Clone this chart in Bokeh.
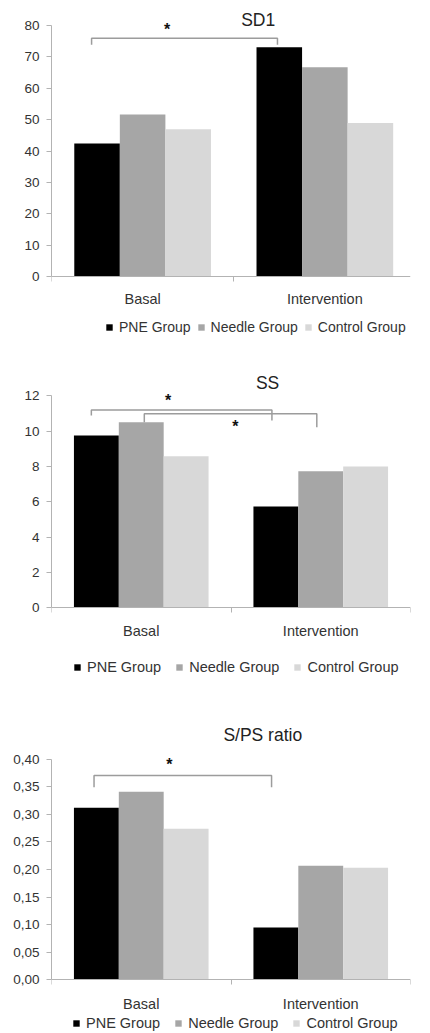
from bokeh.plotting import figure
from bokeh.models import (Range1d, FixedTicker, CustomJSTickFormatter, Legend,
                          LegendItem, ColumnDataSource)
from bokeh.layouts import column
from bokeh.embed import file_html
from bokeh.resources import INLINE
from bokeh.core.properties import value

# ---- data -------------------------------------------------------------
categories = ["Basal", "Intervention"]
groups = ["PNE Group", "Needle Group", "Control Group"]
group_colors = ["#000000", "#a6a6a6", "#d8d8d8"]

sd1_pne = [42.4, 73.1]
sd1_needle = [51.6, 66.7]
sd1_control = [46.9, 48.9]

ss_pne = [9.75, 5.73]
ss_needle = [10.5, 7.73]
ss_control = [8.58, 8.0]

sps_pne = [0.312, 0.095]
sps_needle = [0.341, 0.207]
sps_control = [0.274, 0.203]

sd1_ticks = [0, 10, 20, 30, 40, 50, 60, 70, 80]
ss_ticks = [0, 2, 4, 6, 8, 10, 12]
sps_ticks = [0.0, 0.05, 0.10, 0.15, 0.20, 0.25, 0.30, 0.35, 0.40]

FONT = "Liberation Sans"
AXIS_COLOR = "#b3b3b3"
TEXT_COLOR = "#333333"
BRACKET_COLOR = "#9c9c9c"


def make_panel(title, series, ticks, height, axis_px, px_per_unit,
               border_left, border_right, x_end, tick_code,
               title_pos, brackets, stars, legend_loc, legend_spacing,
               legend_font_size, cat_standoff):
    # the frame fills the whole panel height; the value axis sits at y = 0
    y_start = -(height - axis_px) / px_per_unit
    y_end = axis_px / px_per_unit
    p = figure(width=430, height=height, output_backend="svg",
               toolbar_location=None,
               x_range=Range1d(0, x_end), y_range=Range1d(y_start, y_end),
               min_border_left=border_left, min_border_right=border_right,
               min_border_top=0, min_border_bottom=0,
               outline_line_color=None, background_fill_color="white")
    p.xgrid.visible = False
    p.ygrid.visible = False

    # grouped bars: three groups side by side inside each category
    renderers = []
    n = len(series)
    bw = 0.25
    for k, (vals, color) in enumerate(zip(series, group_colors)):
        xs = [i + 0.5 + (k - (n - 1) / 2) * bw for i in range(len(categories))]
        src = ColumnDataSource(dict(x=xs, top=vals))
        r = p.vbar(x="x", top="top", width=bw, bottom=0, source=src,
                   fill_color=color, line_color=None)
        renderers.append(r)

    # y axis
    yax = p.yaxis[0]
    yax.ticker = FixedTicker(ticks=ticks, minor_ticks=[])
    yax.bounds = (0, ticks[-1])
    if tick_code:
        yax.formatter = CustomJSTickFormatter(code=tick_code)
    yax.axis_line_color = AXIS_COLOR
    yax.major_tick_line_color = AXIS_COLOR
    yax.major_tick_out = 5
    yax.major_tick_in = 0
    yax.major_label_standoff = 7
    yax.major_label_text_font = FONT
    yax.major_label_text_font_size = "13.5px"
    yax.major_label_text_color = TEXT_COLOR

    # x axis at y = 0: labels at category centres, small ticks at edges
    xax = p.xaxis[0]
    xax.fixed_location = 0
    xax.ticker = FixedTicker(ticks=[i + 0.5 for i in range(len(categories))],
                             minor_ticks=list(range(len(categories) + 1)))
    xax.formatter = CustomJSTickFormatter(
        args=dict(cats=categories), code="return cats[Math.floor(tick)];")
    xax.axis_line_color = AXIS_COLOR
    xax.major_tick_line_color = None
    xax.major_tick_out = 0
    xax.major_tick_in = 0
    xax.minor_tick_line_color = AXIS_COLOR
    xax.minor_tick_out = 5
    xax.minor_tick_in = 0
    xax.major_label_standoff = cat_standoff
    xax.major_label_text_font = FONT
    xax.major_label_text_font_size = "14.5px"
    xax.major_label_text_color = TEXT_COLOR

    # significance brackets
    for (x0, x1, yh, yl, yr) in brackets:
        p.line(x=[x0, x0, x1, x1], y=[yl, yh, yh, yr],
               line_color=BRACKET_COLOR, line_width=1.5)
    for (sx, sy) in stars:
        p.text(x=[sx], y=[sy], text=["*"], text_font=value(FONT),
               text_font_size="16px", text_font_style="bold",
               text_align="center", text_baseline="middle",
               text_color="#111111", y_offset=4)

    # panel title
    p.text(x=[title_pos[0]], y=[title_pos[1]], text=[title],
           text_font=value(FONT), text_font_size="17.5px",
           text_align="center", text_baseline="middle",
           text_color="#222222")

    legend = Legend(
        items=[LegendItem(label=g, renderers=[r]) for g, r in zip(groups, renderers)],
        orientation="horizontal", location=legend_loc,
        spacing=legend_spacing, label_standoff=6,
        glyph_width=8, glyph_height=8, padding=0, margin=0,
        border_line_color=None, background_fill_alpha=0,
        label_text_font=FONT, label_text_font_size=legend_font_size,
        label_text_color=TEXT_COLOR)
    p.add_layout(legend, "center")
    return p


p1 = make_panel(
    "SD1", [sd1_pne, sd1_needle, sd1_control], sd1_ticks,
    height=345, axis_px=276, px_per_unit=3.1375,
    border_left=48, border_right=0, x_end=1.97, tick_code=None,
    title_pos=(1.134, 81.6),
    brackets=[(0.22, 1.24, 75.9, 73.9, 73.9)],
    stars=[(0.634, 80.0)],
    legend_loc=(54, 10), legend_spacing=6, legend_font_size="14px",
    cat_standoff=9)

p2 = make_panel(
    "SS", [ss_pne, ss_needle, ss_control], ss_ticks,
    height=345, axis_px=262.3, px_per_unit=17.67,
    border_left=50, border_right=20, x_end=2.0, tick_code=None,
    title_pos=(1.204, 12.71),
    brackets=[(0.222, 1.228, 11.2, 10.88, 10.6),
              (0.517, 1.478, 10.98, 10.5, 10.22)],
    stars=[(0.65, 11.95), (1.024, 10.47)],
    legend_loc=(22, 15), legend_spacing=14, legend_font_size="14.5px",
    cat_standoff=10)

p3 = make_panel(
    "S/PS ratio", [sps_pne, sps_needle, sps_control], sps_ticks,
    height=343, axis_px=289.3, px_per_unit=551.5,
    border_left=51, border_right=9, x_end=2.0,
    tick_code="return tick.toFixed(2).replace('.', ',');",
    title_pos=(1.177, 0.443),
    brackets=[(0.237, 1.226, 0.3705, 0.349, 0.349)],
    stars=[(0.656, 0.398)],
    legend_loc=(21, 2), legend_spacing=14, legend_font_size="14.5px",
    cat_standoff=11)

layout = column(p1, p2, p3, spacing=0)
open("out.html", "w").write(file_html(layout, INLINE))
